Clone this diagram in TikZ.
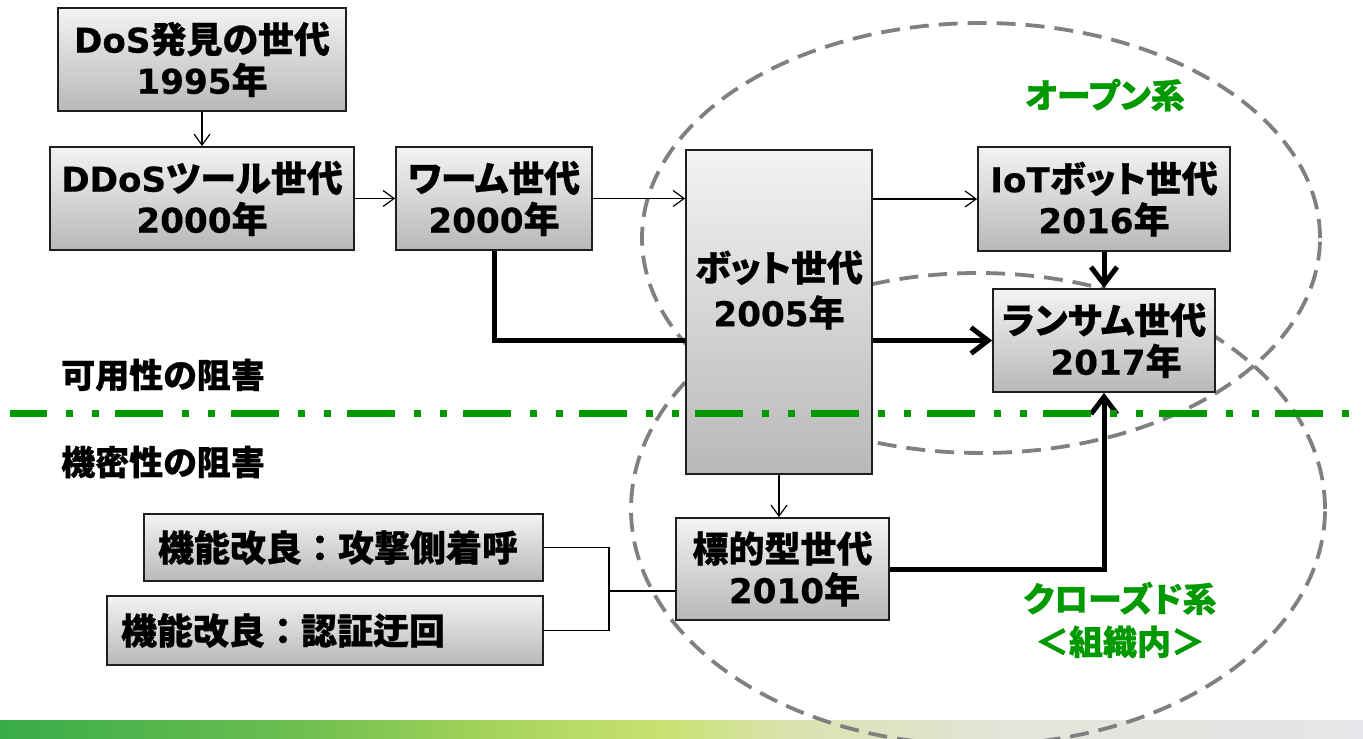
\documentclass[tikz,border=0pt]{standalone}
\usepackage{fontspec}
\usetikzlibrary{arrows.meta}
\setmainfont{Noto Sans CJK JP}[RawFeature=+palt, BoldFeatures={FakeBold=0.7}]
\newfontfamily\jpfw{Noto Sans CJK JP}[BoldFeatures={FakeBold=0.7}]
\newfontfamily\latfont{DejaVu Sans}[Scale=0.95, BoldFeatures={FakeBold=0.4}]
\newcommand\lt[1]{{\latfont #1}}
\definecolor{boxtop}{RGB}{243,243,243}
\definecolor{boxbot}{RGB}{184,184,184}
\definecolor{grn}{RGB}{0,153,0}
\definecolor{dashgray}{RGB}{128,128,128}
\definecolor{barA}{RGB}{56,172,72}
\definecolor{barB}{RGB}{110,190,80}
\definecolor{barC}{RGB}{165,212,90}
\definecolor{barD}{RGB}{200,225,110}
\definecolor{barE}{RGB}{218,226,175}
\definecolor{barF}{RGB}{226,229,218}
\definecolor{barG}{RGB}{229,230,233}
\pgfdeclarehorizontalshading{barshade}{100bp}{color(0bp)=(barA); color(25bp)=(barA); color(36bp)=(barB); color(43bp)=(barC); color(49bp)=(barD); color(54bp)=(barE); color(62bp)=(barF); color(75bp)=(barG); color(100bp)=(barG)}
\begin{document}
\begin{tikzpicture}[x=1pt,y=-1pt,
  box/.style={draw=black!88, line width=1.8pt, top color=boxtop, bottom color=boxbot,
    align=center, inner sep=0pt, font=\fontsize{36}{41}\selectfont\bfseries},
  boxtext/.style={align=center, inner sep=0pt, font=\fontsize{36}{45}\selectfont\bfseries},
  sidebox/.style={draw=black!88, line width=1.8pt, top color=boxtop, bottom color=boxbot,
    align=left, inner xsep=14pt, inner ysep=0pt, font=\jpfw\fontsize{36}{41}\selectfont\bfseries},
  lbl/.style={inner sep=0pt, font=\fontsize{34}{40}\selectfont\bfseries},
  glbl/.style={inner sep=0pt, text=grn, align=center, font=\fontsize{34}{43}\selectfont\bfseries},
  thinarrow/.style={line width=1.2pt, -{Straight Barb[length=11pt,width=16pt]}},
  thinline/.style={line width=1.2pt},
  fatarrow/.style={line width=5pt, -{Straight Barb[length=17pt,width=26pt]}},
  fatline/.style={line width=5pt},
  oval/.style={draw=dashgray, line width=3.8pt, dash pattern=on 19pt off 10pt},
  divider/.style={draw=grn, line width=7pt, dash pattern=on 48pt off 19pt on 7pt off 19pt on 7pt off 16pt, dash phase=11pt}
]
\useasboundingbox (0,0) rectangle (1363,739);
\fill[white] (0,0) rectangle (1363,739);
% bottom bar
\shade[shading=barshade] (0,720) rectangle (1363,739);
% ellipses
\draw[oval] (981,238) ellipse [x radius=339pt, y radius=215pt];
\draw[oval] (978,509) ellipse [x radius=347pt, y radius=236pt];
% boxes
\node[box, minimum width=288, minimum height=103] (A) at (202,59.5) {\lt{DoS}発見の世代\\\lt{1995}年};
\node[box, minimum width=304, minimum height=103] (B) at (202,198.5) {\lt{DDoS}ツール世代\\\lt{2000}年};
\node[box, minimum width=196, minimum height=103] (C) at (494,198.5) {ワーム世代\\\lt{2000}年};
\node[box, minimum width=186, minimum height=324] (D) at (779,312) {};
\node[boxtext] (Dt) at (779,290) {ボット世代\\\lt{2005}年};
\node[box, minimum width=252, minimum height=104] (E) at (1104,199) {\lt{IoT}ボット世代\\\lt{2016}年};
\node[box, minimum width=222, minimum height=103] (F) at (1104,340.5) {ランサム世代\\\hspace*{24pt}\lt{2017}年};
\node[box, minimum width=213, minimum height=102] (G) at (782.5,569) {標的型世代\\\hspace*{24pt}\lt{2010}年};
\node[sidebox, text width=371pt, minimum height=67] (H) at (343.5,547.5) {機能改良：攻撃側着呼};
\node[sidebox, text width=408pt, minimum height=69] (I) at (325,630.5) {機能改良：認証迂回};
\coordinate (J) at (609,591);
% connectors
\draw[thinarrow] (A.south) -- (B.north);
\draw[thinarrow] (B.east) -- (C.west);
\draw[thinarrow] (C.east) -- (D.west |- C.east);
\draw[thinarrow] (D.east |- E.west) -- (E.west);
\draw[fatarrow] (E.south) -- (F.north);
\draw[fatline] (C.south) |- (D.west |- F.west);
\draw[fatarrow] (D.east |- F.west) -- (F.west);
\draw[thinarrow] (D.south) -- (D.south |- G.north);
\draw[fatarrow] (G.east) -| (F.south);
\draw[thinline] (H.east) -| (J) |- (I.east);
\draw[thinline] (J) -- (G.west |- J);
% divider
\draw[divider] (10,413) -- (1363,413);
% labels
\node[lbl, anchor=west] (avail) at (61,375) {可用性の阻害};
\node[lbl, anchor=west] (conf) at (61,462) {機密性の阻害};
\node[glbl] (open) at (1105,95) {オープン系};
\node[glbl] (closed) at (1120,620) {クローズド系\\{\jpfw ＜組織内＞}};
\end{tikzpicture}
\end{document}
